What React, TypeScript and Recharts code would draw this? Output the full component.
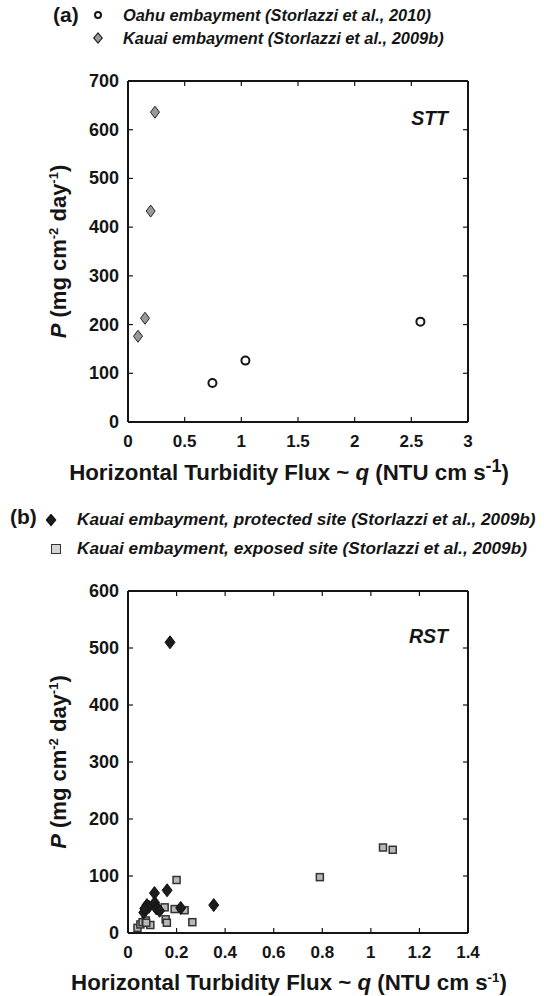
import React from "react";
import { ScatterChart, Scatter, XAxis, YAxis, CartesianGrid } from "recharts";

// panel (a) STT
const oahuFlux = [0.745, 1.036, 2.58];
const oahuP = [80, 126, 206];
const kauaiFlux = [0.088, 0.15, 0.2, 0.238];
const kauaiP = [176, 213, 433, 636];

// panel (b) RST
const protectedFlux = [0.173, 0.161, 0.109, 0.353, 0.217, 0.065, 0.078, 0.086, 0.11, 0.117, 0.13, 0.069];
const protectedP = [510, 75, 70, 49, 44, 36, 49, 46, 53, 43, 39, 43];
const exposedFlux = [1.05, 1.09, 0.79, 0.2, 0.151, 0.192, 0.233, 0.265, 0.155, 0.16, 0.092, 0.039, 0.051, 0.06, 0.073, 0.075];
const exposedP = [150, 146, 98, 93, 45, 42, 40, 19, 24, 18, 14, 9, 15, 19, 22, 18];

const sttXTicks = [0, 0.5, 1, 1.5, 2, 2.5, 3];
const sttYTicks = [0, 100, 200, 300, 400, 500, 600, 700];
const rstXTicks = [0, 0.2, 0.4, 0.6, 0.8, 1, 1.2, 1.4];
const rstYTicks = [0, 100, 200, 300, 400, 500, 600];

const tagged = (kind: string, xs: number[], ys: number[]) => xs.map((x, i) => ({ x, y: ys[i], kind }));
const sttData = [...tagged("oahu", oahuFlux, oahuP), ...tagged("kauai", kauaiFlux, kauaiP)];
const rstData = [...tagged("exposed", exposedFlux, exposedP), ...tagged("protected", protectedFlux, protectedP)];

const FONT = "'Liberation Sans', Arial, Helvetica, sans-serif";
const INK = "#151515";
const CHART_W = 544;
const RIGHT = 76;
const LEFT_W = 128;
const X_H = 38;

const makeBottomTick = (plotTop: number) => (p: any) => (
  <g>
    <line x1={p.x} y1={p.y} x2={p.x} y2={p.y - 5} stroke={INK} strokeWidth={1.2} />
    <line x1={p.x} y1={plotTop} x2={p.x} y2={plotTop + 5} stroke={INK} strokeWidth={1.2} />
    <text x={p.x} y={p.y + 25} textAnchor="middle" fontSize={17} fontWeight="bold" fill={INK} fontFamily={FONT}>
      {p.payload.value}
    </text>
  </g>
);
const makeLeftTick = (plotRight: number) => (p: any) => (
  <g>
    <line x1={p.x} y1={p.y} x2={p.x + 5} y2={p.y} stroke={INK} strokeWidth={1.2} />
    <line x1={plotRight} y1={p.y} x2={plotRight - 5} y2={p.y} stroke={INK} strokeWidth={1.2} />
    <text x={p.x - 9} y={p.y + 6} textAnchor="end" fontSize={18} fontWeight="bold" fill={INK} fontFamily={FONT}>
      {p.payload.value}
    </text>
  </g>
);

const makeYTitle = (cy: number) => () => (
  <text transform={`translate(66,${cy}) rotate(-90)`} textAnchor="middle" fontSize={22} fontWeight="bold"
    fill={INK} fontFamily={FONT}>
    <tspan fontStyle="italic">P</tspan>
    <tspan> (mg cm</tspan>
    <tspan dy={-8} fontSize={13}>-2</tspan>
    <tspan dy={8}> day</tspan>
    <tspan dy={-8} fontSize={13}>-1</tspan>
    <tspan dy={8}>)</tspan>
  </text>
);

const diamond = (cx: number, cy: number, w: number, h: number) =>
  `M${cx},${cy - h}L${cx + w},${cy}L${cx},${cy + h}L${cx - w},${cy}Z`;

// one scatter per panel, marker picked from the point's kind
const Marker = (p: any) => {
  const kind = p.payload?.kind ?? p.kind;
  const { cx, cy } = p;
  if (kind === "oahu") return <circle cx={cx} cy={cy} r={4} fill="#fff" stroke={INK} strokeWidth={2} />;
  if (kind === "kauai") return <path d={diamond(cx, cy, 4.5, 6)} fill="#999" stroke="#222" strokeWidth={1} />;
  if (kind === "protected") return <path d={diamond(cx, cy, 5, 6.5)} fill="#1c1c1c" stroke="#111" strokeWidth={1} />;
  return <rect x={cx - 3.5} y={cy - 3.5} width={7} height={7} fill="#b8b8b8" stroke="#333" strokeWidth={1.5} />;
};

function Panel({ height, top, xMax, yMax, xTicks, yTicks, data }: any) {
  const plotTop = top;
  const plotBottom = height - X_H;
  const plotRight = CHART_W - RIGHT;
  return (
    <div style={{ position: "relative", width: CHART_W, height }}>
      <ScatterChart width={CHART_W} height={height} margin={{ top, right: RIGHT, left: 0, bottom: 0 }}>
        <CartesianGrid
          stroke={INK}
          strokeWidth={2}
          horizontalCoordinatesGenerator={() => [plotTop, plotBottom]}
          verticalCoordinatesGenerator={() => [LEFT_W, plotRight]}
        />
        <XAxis type="number" dataKey="x" domain={[0, xMax]} ticks={xTicks} interval={0} allowDataOverflow
          height={X_H} tickSize={0} tickMargin={0} tickLine={false}
          axisLine={{ stroke: INK, strokeWidth: 2 }} tick={makeBottomTick(plotTop)} />
        <YAxis type="number" dataKey="y" domain={[0, yMax]} ticks={yTicks} interval={0} allowDataOverflow
          width={LEFT_W} tickSize={0} tickMargin={0} tickLine={false}
          axisLine={{ stroke: INK, strokeWidth: 2 }} tick={makeLeftTick(plotRight)}
          label={makeYTitle((plotTop + plotBottom) / 2)} />
        <Scatter data={data} shape={Marker} isAnimationActive={false} />
      </ScatterChart>
    </div>
  );
}

const abs = (extra: React.CSSProperties): React.CSSProperties => ({
  position: "absolute",
  fontFamily: FONT,
  fontWeight: "bold",
  color: INK,
  whiteSpace: "nowrap",
  lineHeight: 1,
  ...extra,
});

const legendText = (left: number, y: number, size: number, text: string) => (
  <div style={abs({ left, top: y - size / 2, fontSize: size, fontStyle: "italic" })}>{text}</div>
);

const DIAMOND_CLIP = "polygon(50% 0, 100% 50%, 50% 100%, 0 50%)";
const DiamondMark = ({ x, y, w, h, fill, edge }: any) => (
  <div style={{ position: "absolute", left: x - w / 2, top: y - h / 2, width: w, height: h, background: edge, clipPath: DIAMOND_CLIP }}>
    <div style={{ position: "absolute", left: 1.5, top: 1.8, width: w - 3, height: h - 3.6, background: fill, clipPath: DIAMOND_CLIP }} />
  </div>
);

const XTitle = ({ y, bigSup }: { y: number; bigSup?: boolean }) => (
  <div style={abs({ left: 0, width: 578, textAlign: "center", top: y - 11, fontSize: 22.3 })}>
    Horizontal Turbidity Flux ~ <i>q</i> (NTU cm s
    <sup style={{ lineHeight: 0, fontSize: bigSup ? "0.8em" : "0.6em" }}>-1</sup>)
  </div>
);

export default function App() {
  return (
    <div style={{ position: "absolute", left: 0, top: 0, width: 544, height: 996, background: "#fff" }}>
      {/* panel (a) labels */}
      <div style={abs({ left: 53, top: 3.5, fontSize: 21 })}>(a)</div>
      <div style={{ position: "absolute", left: 94, top: 11, width: 8, height: 8, borderRadius: "50%", border: `2px solid ${INK}`, background: "#fff", boxSizing: "border-box" }} />
      {legendText(123, 15, 16.4, "Oahu embayment (Storlazzi et al., 2010)")}
      <DiamondMark x={98} y={38} w={10} h={12} fill="#999" edge="#222" />
      {legendText(123, 38, 16.4, "Kauai embayment (Storlazzi et al., 2009b)")}
      <div style={abs({ right: 96, top: 109, fontSize: 19.5, fontStyle: "italic" })}>STT</div>
      <XTitle y={473} bigSup />

      {/* panel (b) labels */}
      <div style={abs({ left: 10, top: 505.5, fontSize: 21 })}>(b)</div>
      <DiamondMark x={51} y={520} w={11} h={13} fill="#1c1c1c" edge="#111" />
      {legendText(77, 520, 17.2, "Kauai embayment, protected site (Storlazzi et al., 2009b)")}
      <div style={{ position: "absolute", left: 51, top: 544, width: 10, height: 10, border: "1.5px solid #333", background: "#d4d4d4", boxSizing: "border-box" }} />
      {legendText(77, 549, 17.2, "Kauai embayment, exposed site (Storlazzi et al., 2009b)")}
      <div style={abs({ right: 96, top: 627, fontSize: 19.5, fontStyle: "italic" })}>RST</div>
      <XTitle y={983} />

      <div style={{ position: "absolute", left: 0, top: 0 }}>
        <Panel height={460} top={81} xMax={3} yMax={700} xTicks={sttXTicks} yTicks={sttYTicks} data={sttData} />
      </div>
      <div style={{ position: "absolute", left: 0, top: 500 }}>
        <Panel height={471} top={91} xMax={1.4} yMax={600} xTicks={rstXTicks} yTicks={rstYTicks} data={rstData} />
      </div>
    </div>
  );
}
